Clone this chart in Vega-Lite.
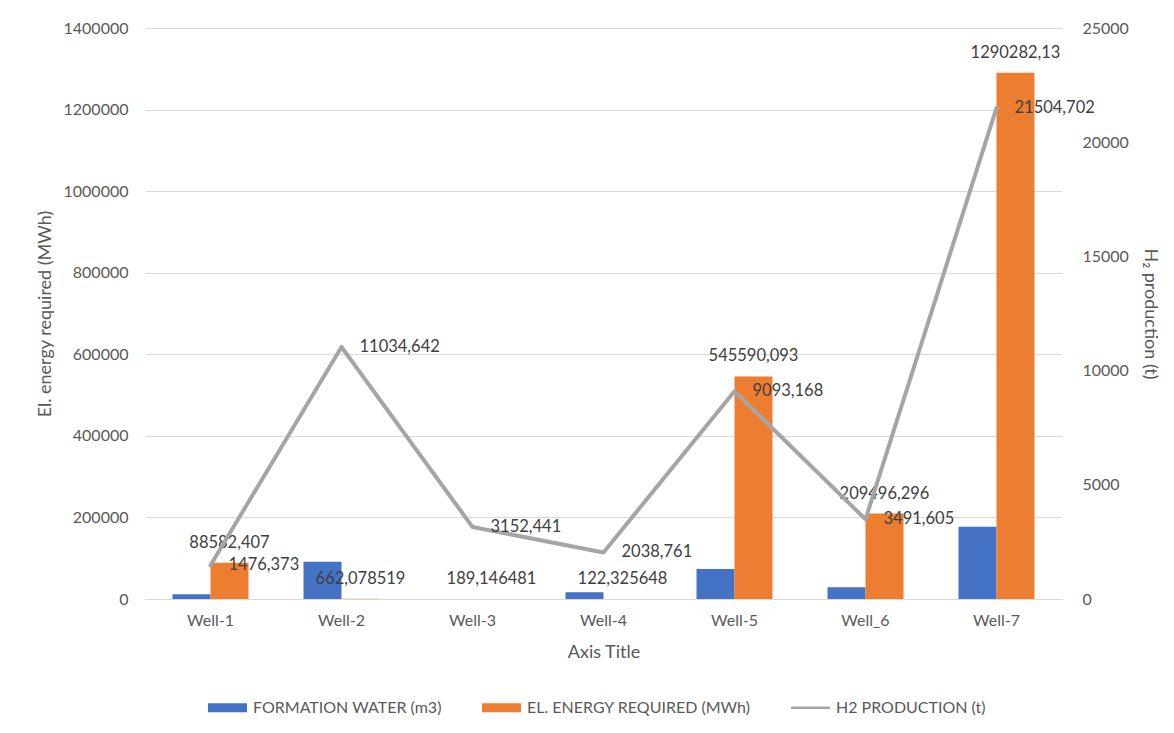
{
  "$schema": "https://vega.github.io/schema/vega-lite/v6.json",
  "width": 917,
  "height": 571,
  "autosize": {"type": "none"},
  "padding": {"left": 145, "top": 28, "right": 112, "bottom": 134},
  "background": "white",
  "config": {
    "font": "Lato",
    "locale": {"number": {"decimal": ",", "thousands": "", "grouping": [3], "currency": ["", ""]}},
    "view": {"stroke": null},
    "axis": {
      "labelFont": "Lato", "labelFontSize": 16, "labelColor": "#595959",
      "titleFont": "Lato", "titleFontSize": 18, "titleColor": "#595959", "titleFontWeight": "normal",
      "ticks": false, "domain": false, "grid": false
    },
    "legend": {
      "labelFont": "Lato", "labelFontSize": 16, "labelColor": "#595959", "labelLimit": 0
    }
  },
  "datasets": {
    "bars": [
      {"well": "Well-1", "series": "FORMATION WATER (m3)", "value": 11500},
      {"well": "Well-1", "series": "EL. ENERGY REQUIRED (MWh)", "value": 88582.407},
      {"well": "Well-2", "series": "FORMATION WATER (m3)", "value": 91400},
      {"well": "Well-2", "series": "EL. ENERGY REQUIRED (MWh)", "value": 662.078519},
      {"well": "Well-3", "series": "FORMATION WATER (m3)", "value": 300},
      {"well": "Well-3", "series": "EL. ENERGY REQUIRED (MWh)", "value": 189.146481},
      {"well": "Well-4", "series": "FORMATION WATER (m3)", "value": 16400},
      {"well": "Well-4", "series": "EL. ENERGY REQUIRED (MWh)", "value": 122.325648},
      {"well": "Well-5", "series": "FORMATION WATER (m3)", "value": 73600},
      {"well": "Well-5", "series": "EL. ENERGY REQUIRED (MWh)", "value": 545590.093},
      {"well": "Well_6", "series": "FORMATION WATER (m3)", "value": 28700},
      {"well": "Well_6", "series": "EL. ENERGY REQUIRED (MWh)", "value": 209496.296},
      {"well": "Well-7", "series": "FORMATION WATER (m3)", "value": 177300},
      {"well": "Well-7", "series": "EL. ENERGY REQUIRED (MWh)", "value": 1290282.13}
    ],
    "h2": [
      {"well": "Well-1", "h2": 1476.373},
      {"well": "Well-2", "h2": 11034.642},
      {"well": "Well-3", "h2": 3152.441},
      {"well": "Well-4", "h2": 2038.761},
      {"well": "Well-5", "h2": 9093.168},
      {"well": "Well_6", "h2": 3491.605},
      {"well": "Well-7", "h2": 21504.702}
    ]
  },
  "layer": [
    {
      "data": {"name": "bars"},
      "layer": [
        {
          "mark": {"type": "bar"},
          "encoding": {
            "x": {
              "field": "well", "type": "nominal", "sort": null,
              "scale": {"domain": ["Well-1", "Well-2", "Well-3", "Well-4", "Well-5", "Well_6", "Well-7"], "paddingInner": 0.42, "paddingOuter": 0.21},
              "axis": {"title": "Axis Title", "labelAngle": 0, "domain": true, "domainColor": "#D9D9D9", "labelPadding": 13, "titlePadding": 15}
            },
            "xOffset": {
              "field": "series", "type": "nominal",
              "scale": {"domain": ["FORMATION WATER (m3)", "EL. ENERGY REQUIRED (MWh)"], "paddingInner": 0, "paddingOuter": 0}
            },
            "y": {
              "field": "value", "type": "quantitative",
              "scale": {"domain": [0, 1400000], "nice": false},
              "axis": {
                "title": "El. energy required (MWh)",
                "values": [0, 200000, 400000, 600000, 800000, 1000000, 1200000, 1400000],
                "format": "d", "grid": true, "gridColor": "#D9D9D9", "gridWidth": 1,
                "labelPadding": 17, "titlePadding": 9
              }
            },
            "color": {
              "field": "series", "type": "nominal",
              "scale": {
                "domain": ["FORMATION WATER (m3)", "EL. ENERGY REQUIRED (MWh)", "H2 PRODUCTION (t)"],
                "range": ["#4472C4", "#ED7D31", "#A5A5A5"]
              },
              "legend": {
                "title": null, "orient": "none", "direction": "horizontal",
                "legendX": 63, "legendY": 660, "padding": 0,
                "symbolSize": 1521, "columnPadding": 40, "labelOffset": 6, "labelLimit": 0,
                "labelFontSize": 16, "labelColor": "#595959",
                "encode": {
                  "symbols": {
                    "update": {
                      "shape": {"signal": "datum.value === 'H2 PRODUCTION (t)' ? 'M-1,-0.07H1V0.07H-1Z' : 'M-1,-0.23H1V0.23H-1Z'"},
                      "fill": {"signal": "scale('color', datum.value)"},
                      "fillOpacity": {"value": 1},
                      "opacity": {"value": 1},
                      "strokeWidth": {"value": 0}
                    }
                  }
                }
              }
            }
          }
        },
        {
          "transform": [{"filter": "datum.series === 'EL. ENERGY REQUIRED (MWh)'"}],
          "mark": {"type": "text", "dy": -20, "baseline": "middle", "align": "center", "fontSize": 16.5, "color": "#404040", "font": "Lato"},
          "encoding": {
            "x": {"field": "well", "type": "nominal", "sort": null},
            "xOffset": {"field": "series", "type": "nominal"},
            "y": {"field": "value", "type": "quantitative"},
            "text": {"field": "value", "type": "quantitative", "format": ".12~g"}
          }
        }
      ]
    },
    {
      "data": {"name": "h2"},
      "layer": [
        {
          "mark": {"type": "line", "strokeWidth": 4, "strokeJoin": "round", "strokeCap": "round"},
          "encoding": {
            "x": {"field": "well", "type": "nominal", "sort": null},
            "y": {
              "field": "h2", "type": "quantitative",
              "scale": {"domain": [0, 25000], "nice": false},
              "axis": {
                "orient": "right", "title": "H₂ production (t)",
                "values": [0, 5000, 10000, 15000, 20000, 25000],
                "format": "d", "labelPadding": 20, "titlePadding": 12
              }
            },
            "color": {"datum": "H2 PRODUCTION (t)"}
          }
        },
        {
          "mark": {"type": "text", "dx": 18, "baseline": "middle", "align": "left", "fontSize": 16.5, "color": "#404040", "font": "Lato"},
          "encoding": {
            "x": {"field": "well", "type": "nominal", "sort": null},
            "y": {"field": "h2", "type": "quantitative"},
            "text": {"field": "h2", "type": "quantitative", "format": ".12~g"}
          }
        }
      ]
    }
  ],
  "resolve": {"scale": {"y": "independent"}}
}
